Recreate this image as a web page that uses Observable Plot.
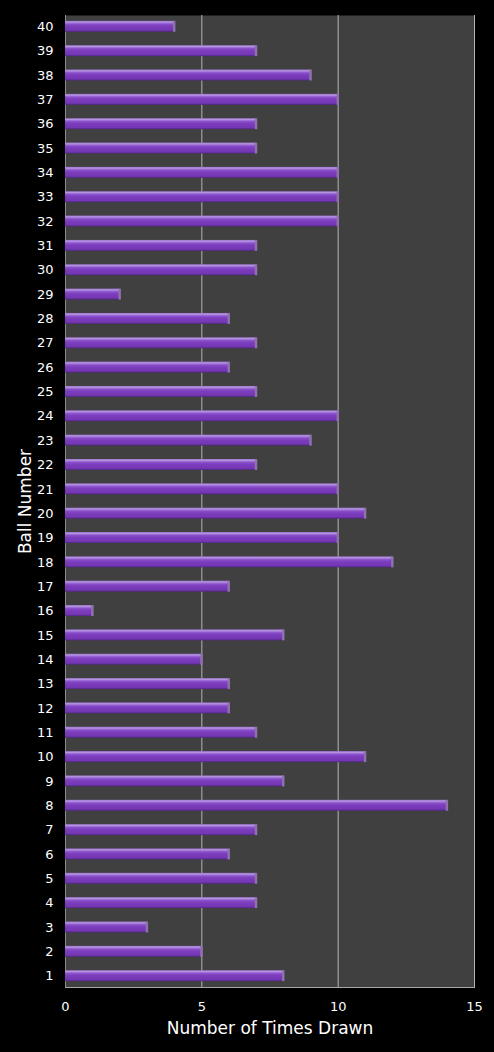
<!DOCTYPE html>
<html>
<head>
<meta charset="utf-8">
<script src="https://cdn.jsdelivr.net/npm/d3@7"></script>
<script src="https://cdn.jsdelivr.net/npm/@observablehq/plot@0.6"></script>
<style>
  body { margin: 0; background: #000; }
  #chart svg { display: block; }
</style>
</head>
<body>
<div id="chart"></div>
<script>
// ball numbers, top of chart first
const balls = [40, 39, 38, 37, 36, 35, 34, 33, 32, 31, 30, 29, 28, 27, 26, 25, 24, 23, 22, 21,
               20, 19, 18, 17, 16, 15, 14, 13, 12, 11, 10, 9, 8, 7, 6, 5, 4, 3, 2, 1];
// times drawn, same order as balls
const timesDrawn = [4, 7, 9, 10, 7, 7, 10, 10, 10, 7, 7, 2, 6, 7, 6, 7, 10, 9, 7, 10,
                    11, 10, 12, 6, 1, 8, 5, 6, 6, 7, 11, 8, 14, 7, 6, 7, 7, 3, 5, 8];
const xTicks = [0, 5, 10, 15];

const data = balls.map((b, i) => ({ball: String(b), count: timesDrawn[i]}));

let chart = Plot.plot({
    width: 494,
    height: 1052,
    marginLeft: 65,
    marginRight: 20,
    marginTop: 15,
    marginBottom: 65,
    style: {
        background: "#000",
        color: "#fff",
        fontFamily: "'DejaVu Sans', Verdana, sans-serif"
    },
    x: {domain: [0, 15], axis: null},
    y: {domain: data.map(d => d.ball), paddingInner: 0.55, paddingOuter: 0.24, round: false, axis: null},
    marks: [
        Plot.frame({fill: "#404040"}),
        Plot.ruleX(xTicks.slice(1), {stroke: "#b4b4b4", strokeWidth: 1}),
        Plot.ruleX([0], {stroke: "#8c8c8c", strokeWidth: 1}),
        Plot.frame({anchor: "bottom", stroke: "#a8a8a8"}),
        // bar body with bevel gradient
        Plot.barX(data, {y: "ball", x: "count", fill: "url(#barGrad)"}),
        // little end cap
        Plot.barX(data, {y: "ball", x1: d => d.count - 0.04, x2: d => d.count + 0.05, fill: "#8f72ad"}),
        Plot.axisY({tickSize: 0, tickPadding: 12, fontSize: 13, fill: "#fff", label: null}),
        Plot.axisX(xTicks, {tickSize: 0, tickPadding: 14, fontSize: 13, fill: "#fff", label: null}),
        Plot.text(["Number of Times Drawn"], {frameAnchor: "bottom", dy: 46, fontSize: 17, fill: "#fff"}),
        Plot.text(["Ball Number"], {frameAnchor: "left", textAnchor: "middle", dx: -40, rotate: -90, fontSize: 17, fill: "#fff"})
    ]
});

// vertical gradient for the bevelled bars
const defs = d3.select(chart).insert("defs", ":first-child");
const grad = defs.append("linearGradient")
    .attr("id", "barGrad")
    .attr("x1", 0).attr("y1", 0).attr("x2", 0).attr("y2", 1);
[
    [0, "#9c74cf"],
    [0.12, "#b594e0"],
    [0.3, "#8a4fcb"],
    [0.5, "#7c3dbd"],
    [0.85, "#7437b3"],
    [1, "#4f2680"]
].forEach(([o, c]) => grad.append("stop").attr("offset", o).attr("stop-color", c));

d3.select("#chart").append(() => chart);
</script>
</body>
</html>
